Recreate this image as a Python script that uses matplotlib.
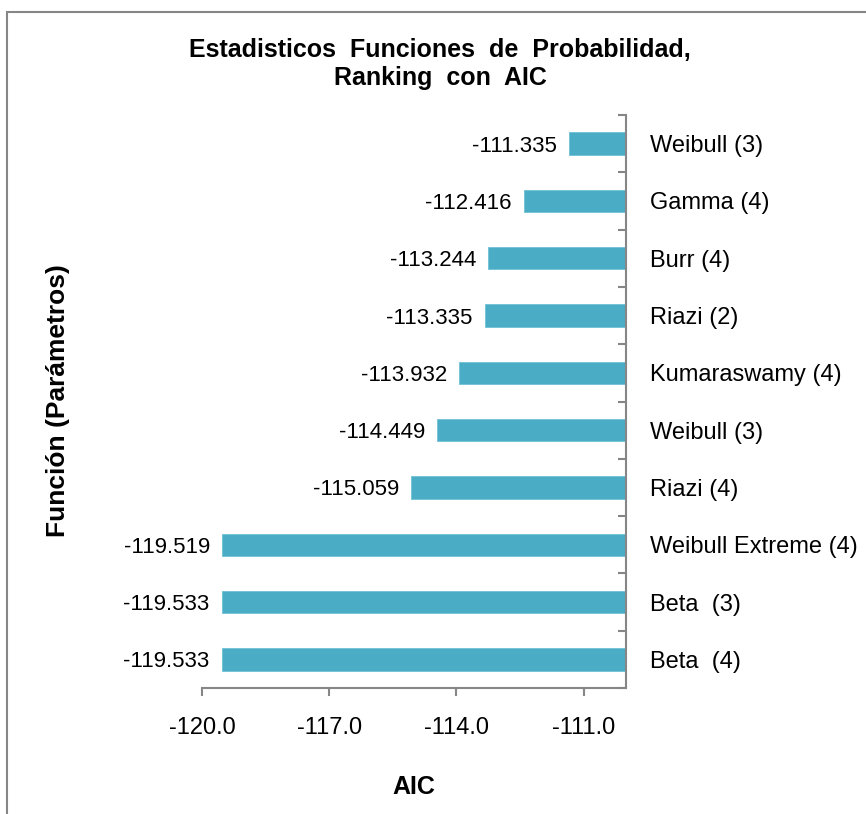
import numpy as np
import matplotlib
matplotlib.use('Agg')
import matplotlib.pyplot as plt
from matplotlib.patches import Rectangle

plt.rcParams['font.family'] = ['Liberation Sans', 'DejaVu Sans']

#------------------------------------------------------------data (top to bottom)
funciones = ['Weibull (3)', 'Gamma (4)', 'Burr (4)', 'Riazi (2)', 'Kumaraswamy (4)',
             'Weibull (3)', 'Riazi (4)', 'Weibull Extreme (4)', 'Beta  (3)', 'Beta  (4)']
aic = [-111.335, -112.416, -113.244, -113.335, -113.932,
       -114.449, -115.059, -119.519, -119.533, -119.533]
xticks = [-120.0, -117.0, -114.0, -111.0]

base = -110.0
color = '#4BACC6'
axcol = '#868686'

fig = plt.figure(figsize=(8.66, 8.14), dpi=100)
ax = fig.add_axes([202/866, 1-688/814, 424/866, 573/814])

n = len(aic)
y = np.arange(n)[::-1]
vals = np.array(aic)
ax.barh(y, vals-base, left=base, height=0.39, color=color, edgecolor='#6fc0d6', linewidth=0.6)

ax.set_xlim(-120, -110)
ax.set_ylim(-0.5, n-0.5)

#------------------------------------------------------------value labels
for yi, v in zip(y, aic):
    ax.annotate('%.3f' % v, (v, yi), xytext=(-9, 0), textcoords='offset points',
                ha='right', va='center_baseline', fontsize=16)

#------------------------------------------------------------axes
for s in ['top', 'left']:
    ax.spines[s].set_visible(False)
for s in ['bottom', 'right']:
    ax.spines[s].set_color(axcol)
    ax.spines[s].set_linewidth(1.5)

ax.set_xticks(xticks)
ax.set_xticklabels(['%.1f' % t for t in xticks], fontsize=17)
ax.tick_params(axis='x', direction='out', length=6, width=1.5, color=axcol, pad=15)

ax.yaxis.tick_right()
ax.set_yticks(y)
ax.set_yticklabels(funciones, fontsize=17, va='center_baseline')
ax.tick_params(axis='y', which='major', length=0, pad=17)
ax.set_yticks(np.arange(n+1)-0.5, minor=True)
ax.tick_params(axis='y', which='minor', direction='in', length=6, width=1.5, color=axcol)

fig.text(414/866, 1-787/814, 'AIC', fontsize=18, fontweight='bold', ha='center', va='center')
fig.text(58/866, 1-401/814, 'Función (Parámetros)', rotation=90, fontsize=19,
         fontweight='bold', ha='center', va='center')

fig.text(440/866, 1-64/814, 'Estadisticos  Funciones  de  Probabilidad,\nRanking  con  AIC',
         fontsize=18, fontweight='bold', ha='center', va='center', linespacing=1.25)

#------------------------------------------------------------border
fig.add_artist(Rectangle((7/866, -0.1), 2, 1.1-12/814, transform=fig.transFigure,
                         fill=False, edgecolor=axcol, linewidth=1.5))

fig.savefig('out.png', dpi=100)
